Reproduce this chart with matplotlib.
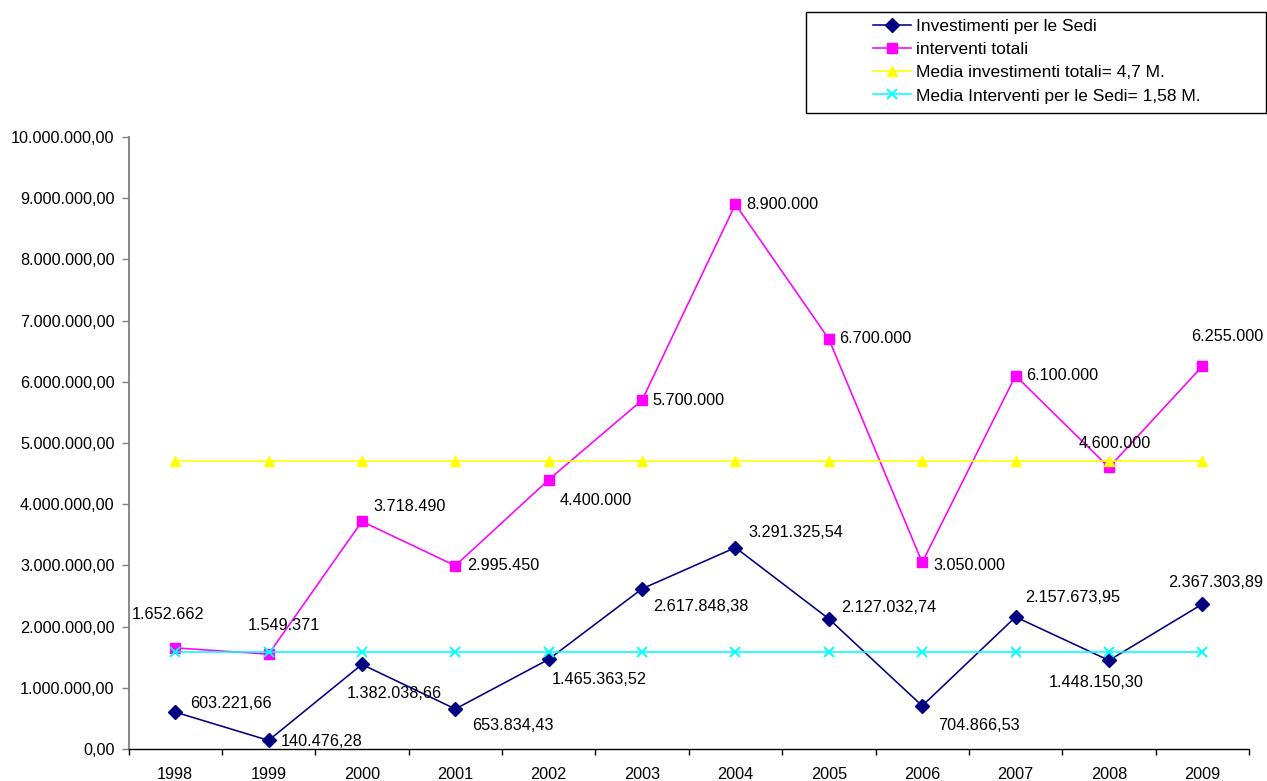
import matplotlib
matplotlib.use("Agg")
import matplotlib.pyplot as plt
from matplotlib.patches import Rectangle
from matplotlib.ticker import FuncFormatter, FixedLocator

plt.rcParams['font.family'] = ['Liberation Sans', 'DejaVu Sans']

# ---- data ----
years = ['1998', '1999', '2000', '2001', '2002', '2003',
         '2004', '2005', '2006', '2007', '2008', '2009']
investimenti_sedi = [603221.66, 140476.28, 1382038.66, 653834.43, 1465363.52, 2617848.38,
                     3291325.54, 2127032.74, 704866.53, 2157673.95, 1448150.30, 2367303.89]
interventi_totali = [1652662, 1549371, 3718490, 2995450, 4400000, 5700000,
                     8900000, 6700000, 3050000, 6100000, 4600000, 6255000]
media_totali = 4700000
media_sedi = 1580000

series_names = ['Investimenti per le Sedi', 'interventi totali',
                'Media investimenti totali= 4,7 M.', 'Media Interventi per le Sedi= 1,58 M.']


def it_number(v, decimals):
    s = f"{v:,.{decimals}f}"
    return s.replace(',', '#').replace('.', ',').replace('#', '.')


# label placement (pixel offsets from each point, horizontal alignment)
navy_offsets = [(15, -9, 'left'), (12, 1, 'left'), (32, 29, 'center'), (17, 17, 'left'),
                (3, 20, 'left'), (11, 18, 'left'), (13, -15, 'left'), (12, -11, 'left'),
                (16, 20, 'left'), (10, -19, 'left'), (-13, 22, 'center'), (13, -22, 'center')]
magenta_offsets = [(-7, -33, 'center'), (15, -29, 'center'), (12, -15, 'left'), (12, 0, 'left'),
                   (11, 21, 'left'), (10, 0, 'left'), (11, 0, 'left'), (10, 0, 'left'),
                   (11, 3, 'left'), (11, 0, 'left'), (6, -24, 'center'), (25, -30, 'center')]

W, H = 1267, 781
fig = plt.figure(figsize=(W / 100, H / 100), dpi=100)
ax = fig.add_axes([128.5 / W, 1 - 749 / H, (1249 - 128.5) / W, (749 - 137) / H])

x = list(range(len(years)))
lw = 1.15
h1, = ax.plot(x, investimenti_sedi, color='#000080', lw=lw, marker='D', ms=6.8,
              markerfacecolor='#000080', markeredgecolor='#000080', zorder=3)
h2, = ax.plot(x, interventi_totali, color='#FF00FF', lw=lw, marker='s', ms=7.0,
              markerfacecolor='#FF00FF', markeredgecolor='#FF00FF', zorder=4)
h3, = ax.plot(x, [media_totali] * len(x), color='#FFFF00', lw=lw, marker='^', ms=7.5,
              markerfacecolor='#FFFF00', markeredgecolor='#FFFF00', zorder=5)
h4, = ax.plot(x, [media_sedi] * len(x), color='#00FFFF', lw=lw, marker='x', ms=7.5,
              markeredgewidth=1.4, zorder=6)

fs = 11.7
for xi, v, (dx, dy, ha) in zip(x, investimenti_sedi, navy_offsets):
    ax.annotate(it_number(v, 2), (xi, v), xytext=(dx, -dy), textcoords='offset pixels',
                ha=ha, va='center', fontsize=fs, color='black', zorder=7)
for xi, v, (dx, dy, ha) in zip(x, interventi_totali, magenta_offsets):
    ax.annotate(it_number(v, 0), (xi, v), xytext=(dx, -dy), textcoords='offset pixels',
                ha=ha, va='center', fontsize=fs, color='black', zorder=7)

# axes
ax.set_xlim(-0.5, len(years) - 0.5)
ax.set_ylim(0, 10000000)
ax.set_yticks([i * 1000000 for i in range(11)])
ax.yaxis.set_major_formatter(FuncFormatter(lambda v, p: it_number(v, 2)))
ax.set_xticks(x)
ax.set_xticklabels(years)
ax.xaxis.set_minor_locator(FixedLocator([i - 0.5 for i in range(len(years) + 1)]))
ax.tick_params(axis='x', which='major', length=0, pad=13, labelsize=fs)
ax.tick_params(axis='x', which='minor', length=4, width=1, color='black', direction='out')
ax.tick_params(axis='y', which='major', length=5, width=1, color='#808080', pad=5, labelsize=fs)
for side in ('top', 'right'):
    ax.spines[side].set_visible(False)
ax.spines['left'].set_color('#808080')
ax.spines['left'].set_linewidth(1.3)
ax.spines['bottom'].set_color('black')
ax.spines['bottom'].set_linewidth(1.0)

# legend box
box = Rectangle((805.5 / W, 1 - 112.5 / H), (1266 - 805.5) / W, (112.5 - 12) / H,
                transform=fig.transFigure, facecolor='white', edgecolor='black', lw=1.0,
                zorder=1)
fig.patches.append(box)
leg = fig.legend([h1, h2, h3, h4], series_names, loc='upper left',
                 bbox_to_anchor=(873 / W, 1 - 19 / H), bbox_transform=fig.transFigure,
                 frameon=False, fontsize=12.5, borderpad=0, borderaxespad=0,
                 handlelength=2.2, handletextpad=0.25, labelspacing=0.46)

fig.savefig('out.png', dpi=100)
